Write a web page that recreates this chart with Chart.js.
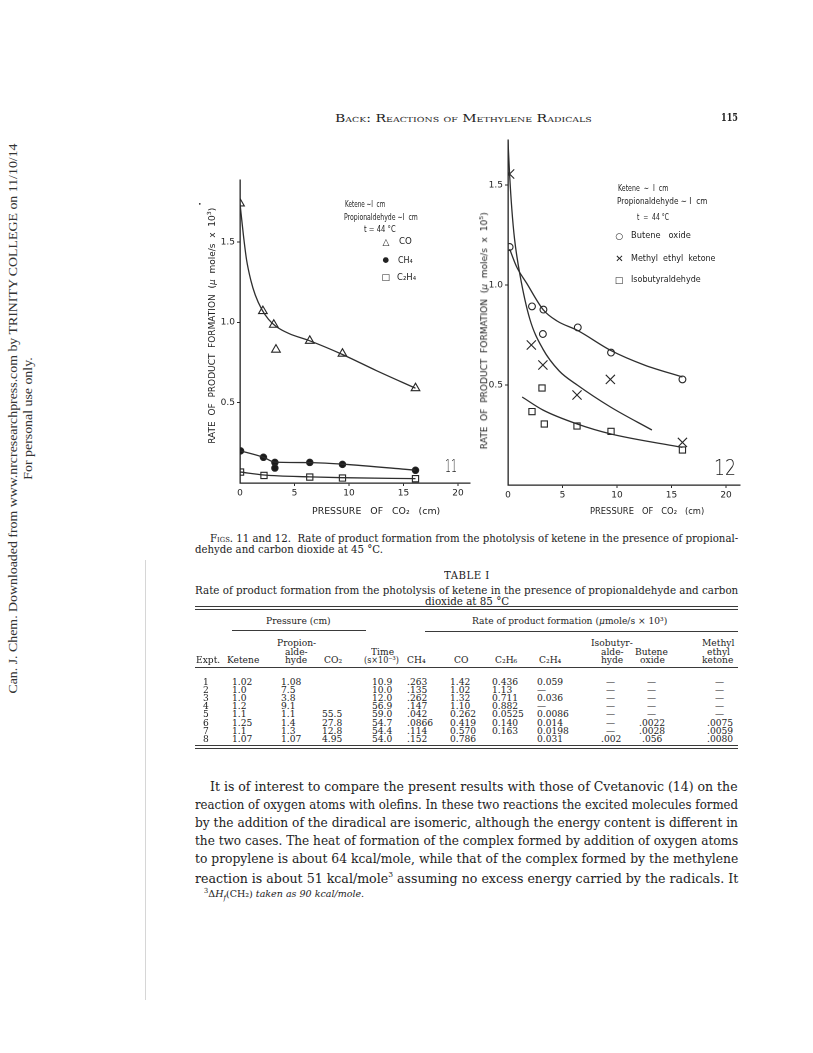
<!DOCTYPE html>
<html lang="en">
<head>
<meta charset="UTF-8" />
<title>Back: Reactions of methylene radicals, p. 115</title>
<script src="https://cdn.jsdelivr.net/npm/chart.js@4.4.1/dist/chart.umd.min.js"></script>
<style>
  html, body { margin: 0; padding: 0; background: #fff; }
  #page { position: relative; width: 813px; height: 1053px; overflow: hidden; background: #fff; color: #222; }
  .t { position: absolute; white-space: nowrap; line-height: 1; transform-origin: 0 50%; }
  .serif { font-family: "DejaVu Serif", serif; }
  .sans { font-family: "DejaVu Sans", sans-serif; }
  .times { font-family: "Liberation Serif", serif; }
  .rule { position: absolute; height: 0; border-top: 1px solid #3a3a3a; }
  canvas { position: absolute; }
</style>
</head>
<body>
<div id="page">
  <canvas id="fig11" width="290" height="360" style="left:190px; top:150px;"></canvas>
  <canvas id="fig12" width="290" height="380" style="left:460px; top:130px;"></canvas>
</div>

<script>
  // ---- Fig. 11: rate of product formation vs pressure of CO2 (cm) ----
  const f11CoX = [0, 2.1, 3.1, 3.3, 6.4, 9.4, 16.1];
  const f11CoY = [1.74, 1.07, 0.985, 0.83, 0.885, 0.805, 0.59];
  const f11Ch4X = [0.05, 2.15, 3.2, 3.2, 6.4, 9.4, 16.1];
  const f11Ch4Y = [0.20, 0.16, 0.128, 0.093, 0.128, 0.116, 0.079];
  const f11C2h4X = [0.05, 2.2, 6.4, 9.4, 16.1];
  const f11C2h4Y = [0.068, 0.047, 0.037, 0.031, 0.027];

  // hand-drawn fit curves
  const f11CoCurveX = [0, 0.3, 0.6, 1.0, 1.4, 2.0, 2.6, 3.3, 4.5, 6.4, 9.4, 12.5, 16.1];
  const f11CoCurveY = [1.74, 1.55, 1.39, 1.26, 1.17, 1.08, 1.02, 0.975, 0.93, 0.885, 0.80, 0.70, 0.59];
  const f11Ch4CurveX = [0.05, 2.15, 3.2, 6.4, 9.4, 16.1];
  const f11Ch4CurveY = [0.20, 0.16, 0.13, 0.127, 0.117, 0.08];
  const f11C2h4CurveX = [0.05, 2.2, 6.4, 9.4, 16.1];
  const f11C2h4CurveY = [0.068, 0.05, 0.038, 0.033, 0.027];

  // ---- Fig. 12 ----
  const f12BoX = [0.15, 2.2, 3.25, 3.2, 6.4, 9.45, 16.0];
  const f12BoY = [1.19, 0.893, 0.877, 0.755, 0.788, 0.662, 0.528];
  const f12MekX = [0.15, 2.14, 3.2, 6.33, 9.39, 16.0];
  const f12MekY = [1.555, 0.70, 0.60, 0.45, 0.528, 0.213];
  const f12IbX = [3.12, 2.2, 3.33, 6.33, 9.45, 16.0];
  const f12IbY = [0.485, 0.367, 0.305, 0.295, 0.268, 0.175];

  const f12BoCurveX = [0.15, 0.8, 1.7, 3.25, 4.5, 6.4, 9.45, 12.5, 16.0];
  const f12BoCurveY = [1.18, 1.09, 1.01, 0.875, 0.82, 0.772, 0.672, 0.60, 0.54];
  const f12MekCurveX = [0, 0.15, 0.35, 0.6, 1.1, 2.0, 3.2, 4.7, 6.35, 9.4, 13.2];
  const f12MekCurveY = [1.72, 1.55, 1.38, 1.23, 1.05, 0.83, 0.68, 0.57, 0.50, 0.39, 0.275];
  const f12IbCurveX = [1.3, 3.2, 6.35, 9.45, 16.0];
  const f12IbCurveY = [0.44, 0.375, 0.305, 0.255, 0.188];

  const xTicks = [0, 5, 10, 15, 20];
  const yTicks = [0.5, 1.0, 1.5];

  // ---- Table I ----
  const tblExpt = ["1", "2", "3", "4", "5", "6", "7", "8"];
  const tblKetene = ["1.02", "1.0", "1.0", "1.2", "1.1", "1.25", "1.1", "1.07"];
  const tblPropion = ["1.08", "7.5", "3.8", "9.1", "1.1", "1.4", "1.3", "1.07"];
  const tblCo2 = ["", "", "", "", "55.5", "27.8", "12.8", "4.95"];
  const tblTime = ["10.9", "10.0", "12.0", "56.9", "59.0", "54.7", "54.4", "54.0"];
  const tblCh4 = [".263", ".135", ".262", ".147", ".042", ".0866", ".114", ".152"];
  const tblCo = ["1.42", "1.02", "1.32", "1.10", "0.262", "0.419", "0.570", "0.786"];
  const tblC2h6 = ["0.436", "1.13", "0.711", "0.882", "0.0525", "0.140", "0.163", ""];
  const tblC2h4 = ["0.059", "—", "0.036", "—", "0.0086", "0.014", "0.0198", "0.031"];
  const tblIsobut = ["—", "—", "—", "—", "—", "—", "—", ".002"];
  const tblButene = ["—", "—", "—", "—", "—", ".0022", ".0028", ".056"];
  const tblMek = ["—", "—", "—", "—", "—", ".0075", ".0059", ".0080"];

  const ink = "#222";
  const pts = (xs, ys) => xs.map((x, i) => ({ x: x, y: ys[i] }));

  function curve(xs, ys) {
    return {
      data: pts(xs, ys), showLine: true, pointRadius: 0, borderColor: "#2e2e2e",
      borderWidth: 1.3, cubicInterpolationMode: "monotone", fill: false
    };
  }
  function marks(xs, ys, style, r, filled) {
    return {
      data: pts(xs, ys), showLine: false, pointStyle: style, pointRadius: r,
      pointBorderColor: "#262626", pointBorderWidth: 1.1,
      pointBackgroundColor: filled ? "#1a1a1a" : "rgba(255,255,255,0)"
    };
  }

  function axes(xMax, yMax, yWidth, xHeight) {
    const tickFont = { family: "DejaVu Sans", size: 9 };
    const grid = {
      display: true, drawOnChartArea: false, drawTicks: true, tickLength: 3,
      color: (c) => (c.tick && c.tick.value === 0 ? "rgba(0,0,0,0)" : "#2a2a2a")
    };
    return {
      x: {
        type: "linear", min: 0, max: xMax,
        border: { display: true, color: "#222", width: 1.3 },
        grid: grid,
        afterBuildTicks: (s) => { s.ticks = xTicks.map((v) => ({ value: v })); },
        afterFit: (s) => { s.height = xHeight; },
        ticks: { font: tickFont, color: ink, padding: 2, maxRotation: 0, callback: (v) => String(v) }
      },
      y: {
        type: "linear", min: 0, max: yMax,
        border: { display: true, color: "#222", width: 1.3 },
        grid: grid,
        afterBuildTicks: (s) => { s.ticks = yTicks.map((v) => ({ value: v })); },
        afterFit: (s) => { s.width = yWidth; },
        ticks: { font: tickFont, color: ink, padding: 2, callback: (v) => v.toFixed(1) }
      }
    };
  }

  function baseOptions(xMax, yMax, yWidth, xHeight, pad) {
    return {
      responsive: false, animation: false, devicePixelRatio: 2,
      layout: { padding: pad },
      plugins: { legend: { display: false }, tooltip: { enabled: false } },
      scales: axes(xMax, yMax, yWidth, xHeight)
    };
  }

  new Chart(document.getElementById("fig11"), {
    type: "line",
    data: {
      datasets: [
        curve(f11CoCurveX, f11CoCurveY),
        curve(f11Ch4CurveX, f11Ch4CurveY),
        curve(f11C2h4CurveX, f11C2h4CurveY),
        marks(f11CoX, f11CoY, "triangle", 5, false),
        marks(f11Ch4X, f11Ch4Y, "circle", 3.2, true),
        marks(f11C2h4X, f11C2h4Y, "rect", 4.4, false)
      ]
    },
    options: baseOptions(21.1, 1.886, 50, 27, { left: 0, right: 10, top: 30, bottom: 0 })
  });

  new Chart(document.getElementById("fig12"), {
    type: "line",
    data: {
      datasets: [
        curve(f12BoCurveX, f12BoCurveY),
        curve(f12MekCurveX, f12MekCurveY),
        curve(f12IbCurveX, f12IbCurveY),
        marks(f12BoX, f12BoY, "circle", 3.4, false),
        marks(f12MekX, f12MekY, "crossRot", 6.5, false),
        marks(f12IbX, f12IbY, "rect", 4.4, false)
      ]
    },
    options: baseOptions(21.28, 1.725, 48, 25, { left: 0, right: 10, top: 10, bottom: 0 })
  });

  // ---- text placement ----
  const page = document.getElementById("page");

  function put(html, x, y, size, o) {
    o = o || {};
    const el = document.createElement("span");
    el.className = "t " + (o.font || "serif");
    el.innerHTML = html;
    el.style.fontSize = size + "px";
    if (o.css) el.style.cssText += o.css;
    page.appendChild(el);
    const nw = el.offsetWidth, nh = el.offsetHeight;
    const s = o.w ? o.w / nw : (o.s || 1);
    const w = nw * s;
    let left = x;
    if (o.align === "c") left = x - w / 2;
    if (o.align === "r") left = x - w;
    el.style.left = left + "px";
    el.style.top = (y - nh / 2) + "px";
    el.style.transform = "scaleX(" + s + ")";
    return s;
  }

  function putV(html, cx, cy, size, o) {
    o = o || {};
    const el = document.createElement("span");
    el.className = "t " + (o.font || "sans");
    el.innerHTML = html;
    el.style.fontSize = size + "px";
    if (o.css) el.style.cssText += o.css;
    page.appendChild(el);
    const nw = el.offsetWidth, nh = el.offsetHeight;
    const s = o.w ? o.w / nw : (o.s || 1);
    el.style.left = (cx - nw / 2) + "px";
    el.style.top = (cy - nh / 2) + "px";
    el.style.transformOrigin = "50% 50%";
    el.style.transform = "rotate(-90deg) scaleX(" + s + ")";
    return s;
  }

  function rule(x1, x2, y, wt) {
    const d = document.createElement("div");
    d.className = "rule";
    d.style.left = x1 + "px";
    d.style.width = (x2 - x1) + "px";
    d.style.top = y + "px";
    if (wt) d.style.borderTopWidth = wt + "px";
    page.appendChild(d);
  }

  function layout() {
    const L = 195, R = 738;

    // running head
    put('<span style="font-variant:small-caps">Back: Reactions of Methylene Radicals</span>', 335, 118, 10.5, { w: 257 });
    put("115", R, 118, 11.5, { w: 17, align: "r", css: "font-weight:bold;" });

    // margin stamp
    const sm = putV("Can. J. Chem. Downloaded from www.nrcresearchpress.com by TRINITY COLLEGE on 11/10/14", 12, 418, 13, { font: "times", w: 550, css: "color:#333;" });
    putV("For personal use only.", 27, 418, 13, { font: "times", s: sm, css: "color:#333;" });

    // Fig. 11 labels
    put("•", 198, 204, 6, { font: "sans" });
    putV("RATE&nbsp; OF&nbsp; PRODUCT&nbsp; FORMATION&nbsp; (<i>μ</i>&nbsp; mole/s&nbsp; x&nbsp; 10<sup style='font-size:70%'>3</sup>)", 212, 326, 8, { w: 236 });
    put("PRESSURE&nbsp;&nbsp; OF&nbsp;&nbsp; CO₂&nbsp;&nbsp; (cm)", 312, 511, 8.5, { font: "sans", w: 128 });
    put("Ketene&nbsp;∼I&nbsp; cm", 345, 204, 8.5, { font: "sans", w: 40 });
    put("Propionaldehyde&nbsp;∼I&nbsp; cm", 344, 217, 8.5, { font: "sans", w: 74 });
    put("t = 44 °C", 364, 229, 8.5, { font: "sans", w: 32 });
    put("△", 386, 242, 9, { font: "sans", align: "c" });
    put("CO", 399, 242, 8, { font: "sans", w: 13 });
    put("●", 386, 260, 7.5, { font: "sans", align: "c" });
    put("CH₄", 398, 261, 8, { font: "sans", w: 15 });
    put("□", 386, 277, 9, { font: "sans", align: "c" });
    put("C₂H₄", 397, 278, 8, { font: "sans", w: 19 });
    put("11", 445, 466, 18, { font: "sans", w: 12, css: "font-weight:200;" });

    // Fig. 12 labels
    putV("RATE&nbsp; OF&nbsp; PRODUCT&nbsp; FORMATION&nbsp; (<i>μ</i>&nbsp; mole/s&nbsp; x&nbsp; 10<sup style='font-size:70%'>5</sup>)", 484, 331, 8, { w: 237 });
    put("PRESSURE&nbsp;&nbsp; OF&nbsp;&nbsp; CO₂&nbsp;&nbsp; (cm)", 590, 511, 8.5, { font: "sans", w: 114 });
    put("Ketene&nbsp; ∼&nbsp; I&nbsp; cm", 618, 188, 8.5, { font: "sans", w: 50 });
    put("Propionaldehyde&nbsp;∼&nbsp;I&nbsp; cm", 617, 201, 8.5, { font: "sans", w: 90 });
    put("t&nbsp; =&nbsp; 44 °C", 637, 217, 8.5, { font: "sans", w: 32 });
    put("○", 619.3, 236, 9, { font: "sans", align: "c" });
    put("Butene&nbsp;&nbsp; oxide", 631, 236, 8, { font: "sans", w: 60 });
    put("✕", 619.3, 258.5, 10, { font: "sans", align: "c" });
    put("Methyl&nbsp; ethyl&nbsp; ketone", 631, 258.5, 8, { font: "sans", w: 85 });
    put("□", 619.3, 280, 9, { font: "sans", align: "c" });
    put("Isobutyraldehyde", 631, 280, 8, { font: "sans", w: 70 });
    put("12", 714, 468, 22, { font: "sans", w: 22, css: "font-weight:200;" });

    // figure caption
    const sc = put('<span style="font-variant:small-caps">Figs.</span> 11 and 12.&nbsp; Rate of product formation from the photolysis of ketene in the presence of propional-', 210, 538, 10.5, { w: R - 210 });
    put("dehyde and carbon dioxide at 45 °C.", L, 549, 10.5, { s: sc });

    // table caption
    put("TABLE I", 467, 575, 10.5, { align: "c", s: sc, css: "letter-spacing:0.5px;" });
    const st = put("Rate of product formation from the photolysis of ketene in the presence of propionaldehyde and carbon", L, 590, 10.5, { w: R - L });
    put("dioxide at 85 °C", 467, 601, 10.5, { align: "c", s: st });

    // table rules
    rule(L, R, 606, 1.2);
    rule(L, R, 609, 1);
    rule(232, 366, 630, 1.2);
    rule(425, R, 631, 1.2);
    rule(L, R, 667, 1.4);
    rule(L, R, 745, 1.2);
    rule(L, R, 748, 1);

    const fs = 9.6, hs = 0.95;
    put("Pressure (cm)", 298, 621, fs, { align: "c", s: hs });
    put("Rate of product formation (<i>μ</i>mole/s × 10³)", 570, 621, fs, { align: "c", s: hs });
    const h1 = 643, h2 = 651.5, h3 = 660;
    put("Expt.", 208, h3, fs, { align: "c", s: hs });
    put("Ketene", 243, h3, fs, { align: "c", s: hs });
    put("Propion-", 296, h1, fs, { align: "c", s: hs });
    put("alde-", 296, h2, fs, { align: "c", s: hs });
    put("hyde", 296, h3, fs, { align: "c", s: hs });
    put("CO₂", 333, h3, fs, { align: "c", s: hs });
    put("Time", 382, h2, fs, { align: "c", s: hs });
    put("(s×10⁻³)", 382, h3, fs, { align: "c", s: 0.84 });
    put("CH₄", 416, h3, fs, { align: "c", s: hs });
    put("CO", 461, h3, fs, { align: "c", s: hs });
    put("C₂H₆", 506, h3, fs, { align: "c", s: hs });
    put("C₂H₄", 550, h3, fs, { align: "c", s: hs });
    put("Isobutyr-", 612, h1, fs, { align: "c", s: hs });
    put("alde-", 612, h2, fs, { align: "c", s: hs });
    put("hyde", 612, h3, fs, { align: "c", s: hs });
    put("Butene", 652, h2, fs, { align: "c", s: hs });
    put("oxide", 652, h3, fs, { align: "c", s: hs });
    put("Methyl", 718, h1, fs, { align: "c", s: hs });
    put("ethyl", 718, h2, fs, { align: "c", s: hs });
    put("ketone", 718, h3, fs, { align: "c", s: hs });

    const cols = [
      [tblExpt, 206, "c"], [tblKetene, 232, "l"], [tblPropion, 281, "l"], [tblCo2, 342, "r"],
      [tblTime, 392, "r"], [tblCh4, 407, "l"], [tblCo, 450, "l"], [tblC2h6, 492, "l"],
      [tblC2h4, 537, "l"], [tblIsobut, 611, "c"], [tblButene, 652, "c"], [tblMek, 720, "c"]
    ];
    cols.forEach(([vals, x, a]) => {
      vals.forEach((v, i) => {
        if (v) put(v, x, 682 + i * 8.1, fs, { align: a, s: hs });
      });
    });

    // body text
    const body = [
      "It is of interest to compare the present results with those of Cvetanovic (14) on the",
      "reaction of oxygen atoms with olefins. In these two reactions the excited molecules formed",
      "by the addition of the diradical are isomeric, although the energy content is different in",
      "the two cases. The heat of formation of the complex formed by addition of oxygen atoms",
      "to propylene is about 64 kcal/mole, while that of the complex formed by the methylene",
      "reaction is about 51 kcal/mole<sup style='font-size:60%'>3</sup> assuming no excess energy carried by the radicals. It"
    ];
    body.forEach((line, i) => {
      const x = i === 0 ? L + 15 : L;
      put(line, x, 787 + i * 18, 13.5, { w: R - x });
    });
    put("<sup style='font-size:70%'>3</sup>Δ<i>H</i><sub style='font-size:70%'><i>f</i></sub>(CH₂) <i>taken as 90 kcal/mole.</i>", 204, 895, 10, { w: 160 });

    // scanner edge line
    const edge = document.createElement("div");
    edge.style.cssText = "position:absolute;left:145px;top:560px;width:1px;height:440px;background:#d6d6d6;";
    page.appendChild(edge);
  }

  if (document.fonts && document.fonts.ready) {
    document.fonts.ready.then(layout);
  } else {
    layout();
  }
</script>
</body>
</html>
